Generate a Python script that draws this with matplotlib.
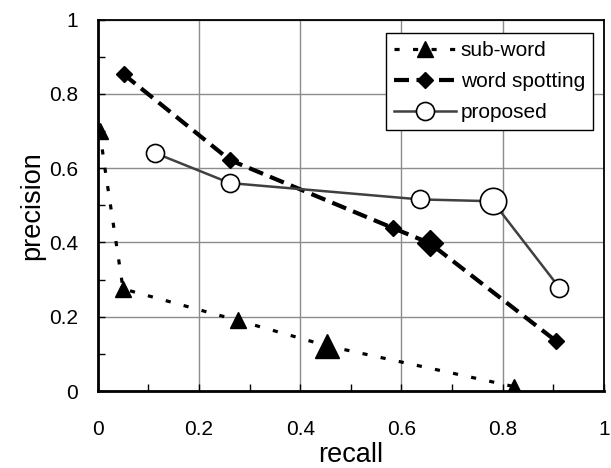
import numpy as np
import matplotlib.pyplot as plt
from matplotlib.ticker import MultipleLocator

plt.rcParams['font.family'] = ['Liberation Sans', 'DejaVu Sans']

# sub-word (one unmarked bend point on the line)
sub_recall = [0.004, 0.013, 0.05, 0.277, 0.452, 0.822]
sub_prec = [0.700, 0.610, 0.275, 0.190, 0.122, 0.012]
sub_marked = [0, 2, 3, 5]
sub_big = 4

# word spotting
ws_recall = [0.051, 0.261, 0.583, 0.656, 0.905]
ws_prec = [0.853, 0.622, 0.439, 0.398, 0.135]
ws_big = 3

# proposed
pr_recall = [0.113, 0.261, 0.636, 0.780, 0.912]
pr_prec = [0.641, 0.560, 0.516, 0.511, 0.278]
pr_big = 3

fig = plt.figure(figsize=(6.11, 4.68), dpi=100)
ax = fig.add_axes([0.160, 0.1645, 0.8285, 0.7935])

ax.plot(sub_recall, sub_prec, color='black', linestyle=(0, (1.6, 4.2)), linewidth=2.3,
        marker='^', markersize=11, markevery=sub_marked, label='sub-word', zorder=3)
ax.plot(ws_recall, ws_prec, color='black', linestyle=(0, (3.6, 1.8)), linewidth=3,
        marker='D', markersize=8, markevery=[i for i in range(len(ws_recall)) if i != ws_big],
        label='word spotting', zorder=3)
ax.plot(pr_recall, pr_prec, color='#404040', linestyle='-', linewidth=1.8,
        marker='o', markersize=13, markerfacecolor='white', markeredgecolor='black',
        markeredgewidth=1.2, markevery=[i for i in range(len(pr_recall)) if i != pr_big],
        label='proposed', zorder=3)

# highlighted (larger) points
ax.plot(sub_recall[sub_big], sub_prec[sub_big], marker='^', markersize=17, color='black',
        linestyle='none', zorder=4)
ax.plot(ws_recall[ws_big], ws_prec[ws_big], marker='D', markersize=13, color='black',
        linestyle='none', zorder=4)
ax.plot(pr_recall[pr_big], pr_prec[pr_big], marker='o', markersize=19, markerfacecolor='white',
        markeredgecolor='black', markeredgewidth=1.2, linestyle='none', zorder=4)

ax.set_xlim(0, 1)
ax.set_ylim(0, 1)
ax.xaxis.set_minor_locator(MultipleLocator(0.1))
ax.yaxis.set_minor_locator(MultipleLocator(0.1))
ticks = [0, 0.2, 0.4, 0.6, 0.8, 1.0]
tick_labels = ['0', '0.2', '0.4', '0.6', '0.8', '1']
ax.set_xticks(ticks)
ax.set_xticklabels(tick_labels)
ax.set_yticks(ticks)
ax.set_yticklabels(tick_labels)
ax.tick_params(which='both', direction='in', length=5, width=1, labelsize=15, color='black')
ax.tick_params(axis='x', pad=21)
ax.tick_params(axis='y', pad=14)
ax.tick_params(top=False, right=False, which='both')
ax.grid(True, which='major', color='#8c8c8c', linewidth=1)
ax.set_axisbelow(True)

for side in ['left', 'bottom']:
    ax.spines[side].set_linewidth(2)
for side in ['top', 'right']:
    ax.spines[side].set_linewidth(1.3)

ax.set_xlabel('recall', fontsize=19.5, labelpad=2)
ax.set_ylabel('precision', fontsize=19.5, labelpad=3)

leg = ax.legend(loc='upper right', bbox_to_anchor=(0.978, 0.964), fontsize=15,
                frameon=True, fancybox=False, edgecolor='black', framealpha=1,
                handlelength=3.0, handletextpad=0.2, borderpad=0.385, labelspacing=0.58,
                borderaxespad=0)
leg.get_frame().set_linewidth(1)

fig.savefig('out.png', dpi=100)
